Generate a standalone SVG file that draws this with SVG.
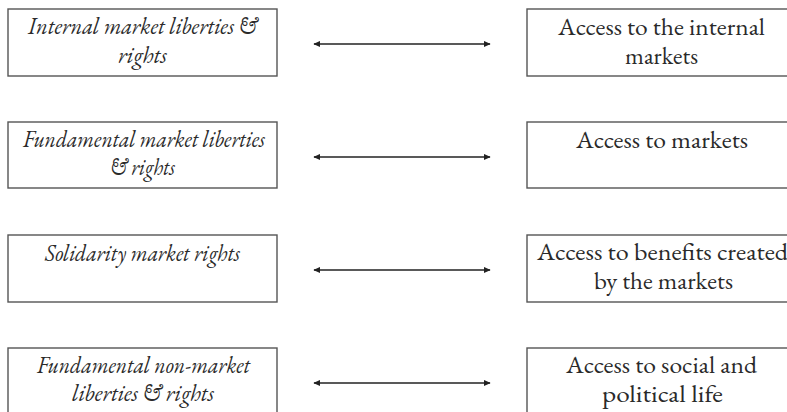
<svg xmlns="http://www.w3.org/2000/svg" width="787" height="412" viewBox="0 0 787 412">
  <style>
    .box { fill: #fff; stroke: #555; stroke-width: 1.4; }
    .lbl { font-family: 'EB Garamond', 'Liberation Serif', serif; font-size: 23px; fill: #2a2a2a; text-anchor: middle; }
    .it { font-style: italic; }
    .link { stroke: #222; stroke-width: 1.5; fill: none; marker-start: url(#head); marker-end: url(#head); }
  </style>
  <defs>
    <marker id="head" viewBox="0 0 10 10" refX="9" refY="5" markerWidth="7" markerHeight="7" markerUnits="userSpaceOnUse" orient="auto-start-reverse">
      <path d="M0,0.5 L10,5 L0,9.5 z" fill="#222"/>
    </marker>
  </defs>
  <rect width="787" height="412" fill="#fff"/>

  <!-- left column: liberties and rights -->
  <g id="left-internal">
    <rect class="box" x="8" y="9" width="269" height="67"/>
    <text class="lbl it" x="142.5" y="34" textLength="229" lengthAdjust="spacingAndGlyphs">Internal market liberties &amp;</text>
    <text class="lbl it" x="142.5" y="63" textLength="49" lengthAdjust="spacingAndGlyphs">rights</text>
  </g>
  <g id="left-fundamental">
    <rect class="box" x="8" y="122" width="269" height="66"/>
    <text class="lbl it" x="144" y="147" textLength="242" lengthAdjust="spacingAndGlyphs">Fundamental market liberties</text>
    <text class="lbl it" x="142.5" y="175" textLength="65" lengthAdjust="spacingAndGlyphs">&amp; rights</text>
  </g>
  <g id="left-solidarity">
    <rect class="box" x="8" y="235" width="269" height="67"/>
    <text class="lbl it" x="142.5" y="261" textLength="195" lengthAdjust="spacingAndGlyphs">Solidarity market rights</text>
  </g>
  <g id="left-nonmarket">
    <rect class="box" x="8" y="348" width="269" height="80"/>
    <text class="lbl it" x="143.5" y="373" textLength="213" lengthAdjust="spacingAndGlyphs">Fundamental non-market</text>
    <text class="lbl it" x="143" y="401" textLength="142" lengthAdjust="spacingAndGlyphs">liberties &amp; rights</text>
  </g>

  <!-- right column: forms of access -->
  <g id="right-internal">
    <rect class="box" x="527" y="9" width="272" height="67"/>
    <text class="lbl" x="661.5" y="35" textLength="207" lengthAdjust="spacingAndGlyphs">Access to the internal</text>
    <text class="lbl" x="661.5" y="64" textLength="73" lengthAdjust="spacingAndGlyphs">markets</text>
  </g>
  <g id="right-markets">
    <rect class="box" x="527" y="122" width="272" height="66"/>
    <text class="lbl" x="662" y="148" textLength="172" lengthAdjust="spacingAndGlyphs">Access to markets</text>
  </g>
  <g id="right-benefits">
    <rect class="box" x="527" y="235" width="272" height="67"/>
    <text class="lbl" x="662.5" y="260" textLength="251" lengthAdjust="spacingAndGlyphs">Access to benefits created</text>
    <text class="lbl" x="663.5" y="289" textLength="139" lengthAdjust="spacingAndGlyphs">by the markets</text>
  </g>
  <g id="right-social">
    <rect class="box" x="527" y="348" width="272" height="80"/>
    <text class="lbl" x="661.5" y="373" textLength="191" lengthAdjust="spacingAndGlyphs">Access to social and</text>
    <text class="lbl" x="662.5" y="402" textLength="121" lengthAdjust="spacingAndGlyphs">political life</text>
  </g>

  <!-- two-way connectors -->
  <g id="connectors">
    <line class="link" x1="314" y1="44" x2="490" y2="44"/>
    <line class="link" x1="314" y1="157" x2="490" y2="157"/>
    <line class="link" x1="314" y1="270" x2="490" y2="270"/>
    <line class="link" x1="314" y1="383" x2="490" y2="383"/>
  </g>
</svg>
